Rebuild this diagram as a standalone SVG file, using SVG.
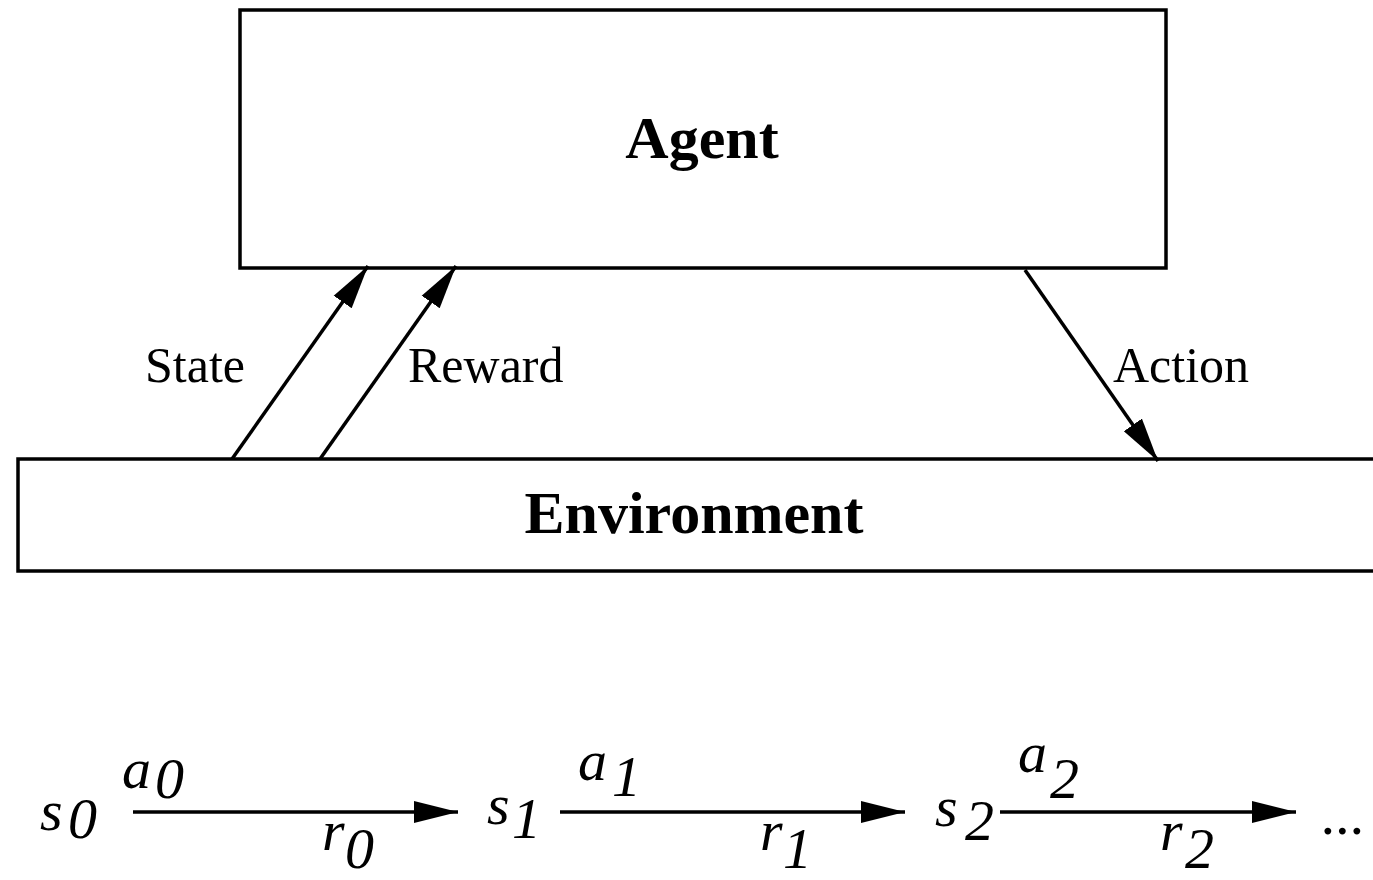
<svg xmlns="http://www.w3.org/2000/svg" width="1373" height="880" viewBox="0 0 1373 880">
<style>
.box{fill:#fff;stroke:#000;stroke-width:3.5}
.title{font-family:"Liberation Serif",serif;font-weight:bold;font-size:60px;text-anchor:middle}
.lbl{font-family:"Liberation Serif",serif;font-size:50px}
.m{font-family:"Liberation Serif",serif;font-style:italic;font-size:58px}
.c{stroke:#000;stroke-width:3.5;fill:none}
</style>
<defs>
<marker id="ah" markerUnits="userSpaceOnUse" markerWidth="44" markerHeight="26" viewBox="0 0 44 26" refX="44" refY="13" orient="auto">
<path d="M0,2 L44,13 L0,24 Z" fill="#000"/>
</marker>
</defs>
<rect width="1373" height="880" fill="#fff"/>
<g id="agent">
<rect class="box" x="240" y="10" width="926" height="258"/>
<text class="title" x="702" y="158">Agent</text>
</g>
<g id="environment">
<rect class="box" x="18" y="459" width="1370" height="112"/>
<text class="title" x="694" y="533">Environment</text>
</g>
<g id="connectors">
<line class="c" x1="232" y1="459" x2="368" y2="266" marker-end="url(#ah)"/>
<line class="c" x1="320" y1="459" x2="456" y2="266" marker-end="url(#ah)"/>
<line class="c" x1="1025" y1="270" x2="1158" y2="461" marker-end="url(#ah)"/>
<line class="c" x1="133" y1="812" x2="458" y2="812" marker-end="url(#ah)"/>
<line class="c" x1="560" y1="812" x2="905" y2="812" marker-end="url(#ah)"/>
<line class="c" x1="1000" y1="812" x2="1296" y2="812" marker-end="url(#ah)"/>
</g>
<g id="labels">
<text class="lbl" x="145" y="382">State</text>
<text class="lbl" x="408" y="382">Reward</text>
<text class="lbl" x="1113" y="382">Action</text>
</g>
<g id="sequence">
<text class="m" x="40" y="830">s</text><text class="m" x="68" y="838">0</text>
<text class="m" x="122" y="788">a</text><text class="m" x="155" y="798">0</text>
<text class="m" x="322" y="850">r</text><text class="m" x="345" y="868">0</text>
<text class="m" x="487" y="824">s</text><text class="m" x="512" y="838">1</text>
<text class="m" x="578" y="780">a</text><text class="m" x="612" y="796">1</text>
<text class="m" x="760" y="850">r</text><text class="m" x="783" y="868">1</text>
<text class="m" x="935" y="826">s</text><text class="m" x="965" y="840">2</text>
<text class="m" x="1018" y="772">a</text><text class="m" x="1050" y="798">2</text>
<text class="m" x="1160" y="850">r</text><text class="m" x="1185" y="868">2</text>
<text class="m" x="1322" y="834">...</text>
</g>
</svg>
